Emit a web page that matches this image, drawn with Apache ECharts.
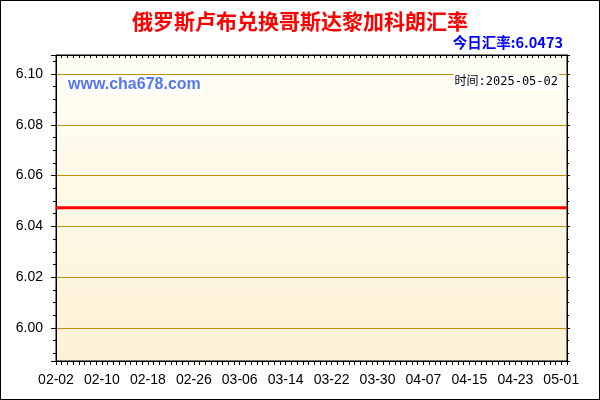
<!DOCTYPE html>
<html>
<head>
<meta charset="utf-8">
<script src="https://cdn.jsdelivr.net/npm/echarts@6/dist/echarts.min.js"></script>
<style>
  body { margin: 0; background: #fff; }
  #wrap { width: 600px; height: 400px; box-sizing: border-box; border: 1px solid #000; }
  #chart { width: 598px; height: 398px; }
</style>
</head>
<body>
<div id="wrap"><div id="chart"></div></div>
<script>
// 俄罗斯卢布 -> 哥斯达黎加科朗 汇率走势

const titleText = "俄罗斯卢布兑换哥斯达黎加科朗汇率";
const todayText = "今日汇率:6.0473";
const siteText = "www.cha678.com";
const timeText = "时间:2025-05-02";

const dates = [
  "02-02", "02-03", "02-04", "02-05", "02-06", "02-07", "02-08", "02-09", "02-10", "02-11",
  "02-12", "02-13", "02-14", "02-15", "02-16", "02-17", "02-18", "02-19", "02-20", "02-21",
  "02-22", "02-23", "02-24", "02-25", "02-26", "02-27", "02-28",
  "03-01", "03-02", "03-03", "03-04", "03-05", "03-06", "03-07", "03-08", "03-09", "03-10",
  "03-11", "03-12", "03-13", "03-14", "03-15", "03-16", "03-17", "03-18", "03-19", "03-20",
  "03-21", "03-22", "03-23", "03-24", "03-25", "03-26", "03-27", "03-28", "03-29", "03-30",
  "03-31",
  "04-01", "04-02", "04-03", "04-04", "04-05", "04-06", "04-07", "04-08", "04-09", "04-10",
  "04-11", "04-12", "04-13", "04-14", "04-15", "04-16", "04-17", "04-18", "04-19", "04-20",
  "04-21", "04-22", "04-23", "04-24", "04-25", "04-26", "04-27", "04-28", "04-29", "04-30",
  "05-01", "05-02"
];

const rates = [
  6.0473, 6.0473, 6.0473, 6.0473, 6.0473, 6.0473, 6.0473, 6.0473, 6.0473, 6.0473,
  6.0473, 6.0473, 6.0473, 6.0473, 6.0473, 6.0473, 6.0473, 6.0473, 6.0473, 6.0473,
  6.0473, 6.0473, 6.0473, 6.0473, 6.0473, 6.0473, 6.0473,
  6.0473, 6.0473, 6.0473, 6.0473, 6.0473, 6.0473, 6.0473, 6.0473, 6.0473, 6.0473,
  6.0473, 6.0473, 6.0473, 6.0473, 6.0473, 6.0473, 6.0473, 6.0473, 6.0473, 6.0473,
  6.0473, 6.0473, 6.0473, 6.0473, 6.0473, 6.0473, 6.0473, 6.0473, 6.0473, 6.0473,
  6.0473,
  6.0473, 6.0473, 6.0473, 6.0473, 6.0473, 6.0473, 6.0473, 6.0473, 6.0473, 6.0473,
  6.0473, 6.0473, 6.0473, 6.0473, 6.0473, 6.0473, 6.0473, 6.0473, 6.0473, 6.0473,
  6.0473, 6.0473, 6.0473, 6.0473, 6.0473, 6.0473, 6.0473, 6.0473, 6.0473, 6.0473,
  6.0473, 6.0473
];

const yMin = 5.987;
const yMax = 6.1075;

const gridColor = "#c09000";
const labelFont = "Arial, 'Liberation Sans', sans-serif";
const cjkFont = "'Noto Sans CJK SC', sans-serif";
const monoFont = "'DejaVu Sans Mono', 'Noto Sans CJK SC', monospace";

const myChart = echarts.init(document.getElementById("chart"));

const option = {
  animation: false,
  title: [
    {
      text: titleText,
      left: "center",
      top: 10,
      padding: 0,
      textStyle: { color: "#ff0000", fontSize: 21, fontWeight: "bold", fontFamily: cjkFont }
    },
    {
      text: todayText,
      right: 36,
      top: 34,
      padding: 0,
      textStyle: { color: "#0000ff", fontSize: 14.5, fontWeight: "bold", fontFamily: cjkFont }
    },
    {
      text: siteText,
      left: 65,
      top: 75,
      padding: [1, 2],
      backgroundColor: "#fff",
      textStyle: { color: "#5577ee", fontSize: 16, fontWeight: "bold", fontFamily: labelFont }
    },
    {
      text: timeText,
      right: 40,
      top: 73,
      padding: [2, 1],
      backgroundColor: "#fff",
      textStyle: { color: "#000", fontSize: 12, fontWeight: "normal", fontFamily: monoFont }
    }
  ],
  grid: {
    left: 55,
    right: 32,
    top: 54,
    bottom: 38,
    show: true,
    borderColor: "#000",
    borderWidth: 1,
    backgroundColor: new echarts.graphic.LinearGradient(0, 0, 0, 1, [
      { offset: 0, color: "#fffef4" },
      { offset: 1, color: "#fdf1d6" }
    ])
  },
  xAxis: [
    {
      type: "category",
      data: dates,
      boundaryGap: false,
      axisLine: { lineStyle: { color: "#000" } },
      axisTick: { interval: 0, length: 4, lineStyle: { color: "#000" } },
      axisLabel: { interval: 7, margin: 12, color: "#000", fontSize: 14, fontFamily: labelFont },
      splitLine: { show: false }
    },
    {
      type: "category",
      data: dates,
      position: "top",
      boundaryGap: false,
      axisLine: { lineStyle: { color: "#000" } },
      axisTick: { interval: 0, inside: true, length: 3, lineStyle: { color: "#000" } },
      axisLabel: { show: false },
      splitLine: { show: false }
    }
  ],
  yAxis: [
    {
      type: "value",
      min: yMin,
      max: yMax,
      splitNumber: 6,
      axisLine: { show: true, lineStyle: { color: "#000" } },
      axisTick: { show: true, length: 5, lineStyle: { color: "#000" } },
      minorTick: { show: true, splitNumber: 4, length: 3, lineStyle: { color: "#000" } },
      axisLabel: {
        margin: 13,
        color: "#000",
        fontSize: 14,
        fontFamily: labelFont,
        showMinLabel: false,
        showMaxLabel: false,
        formatter: (v) => v.toFixed(2)
      },
      splitLine: {
        show: true,
        showMinLine: false,
        showMaxLine: false,
        lineStyle: { color: gridColor, width: 1 }
      }
    },
    {
      type: "value",
      min: yMin,
      max: yMax,
      splitNumber: 6,
      position: "right",
      axisLine: { show: true, lineStyle: { color: "#000" } },
      axisTick: { show: true, length: 3, lineStyle: { color: "#000" } },
      minorTick: { show: true, splitNumber: 4, length: 2, lineStyle: { color: "#000" } },
      axisLabel: { show: false },
      splitLine: { show: false }
    }
  ],
  series: [
    {
      type: "line",
      data: rates,
      xAxisIndex: 0,
      yAxisIndex: 0,
      symbol: "none",
      lineStyle: { color: "#ff0000", width: 3 },
      itemStyle: { color: "#ff0000" }
    }
  ]
};

option && myChart.setOption(option);
</script>
</body>
</html>
